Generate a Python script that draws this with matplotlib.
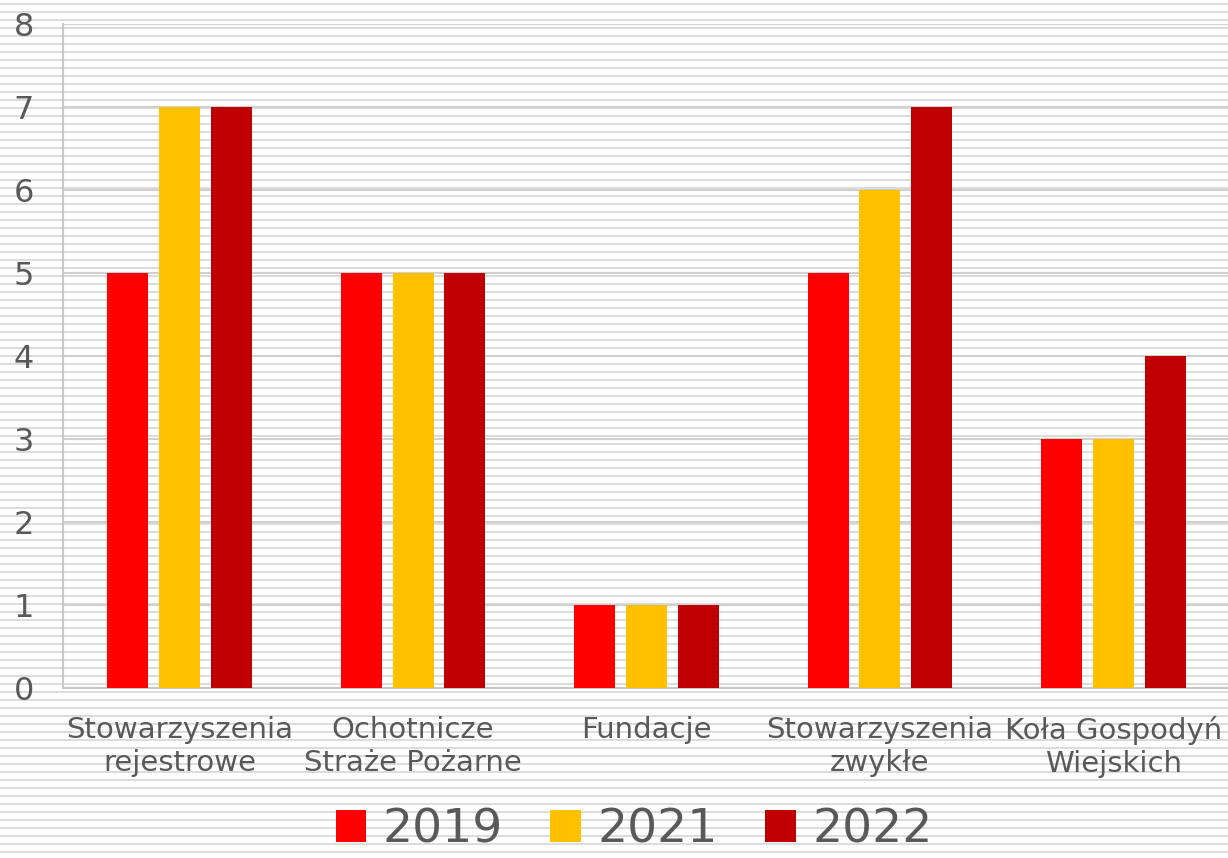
import matplotlib
matplotlib.use("Agg")
import matplotlib.pyplot as plt
import numpy as np

categories = ["Stowarzyszenia\nrejestrowe", "Ochotnicze\nStraże Pożarne", "Fundacje",
              "Stowarzyszenia\nzwykłe", "Koła Gospodyń\nWiejskich"]
series_names = ["2019", "2021", "2022"]
v2019 = [5, 5, 1, 5, 3]
v2021 = [7, 5, 1, 6, 3]
v2022 = [7, 5, 1, 7, 4]
colors = ["#FF0000", "#FFC000", "#C00000"]
yticks = [0, 1, 2, 3, 4, 5, 6, 7, 8]

W, H = 1228, 858
fig = plt.figure(figsize=(W / 100, H / 100), dpi=100)
fig.patch.set_facecolor("white")

# background striped pattern
bg = fig.add_axes([0, 0, 1, 1], zorder=0)
bg.set_xlim(0, W)
bg.set_ylim(H, 0)
bg.axis("off")
for yy in np.arange(3.7, H, 8.0):
    bg.axhline(yy, color="#dcdcdc", lw=1.4, zorder=0)

left, right, top, bottom = 63, 1230, 24, 688
ax = fig.add_axes([left / W, 1 - bottom / H, (right - left) / W, (bottom - top) / H], zorder=1)
ax.patch.set_alpha(0)

x = np.arange(len(categories))
bw = 0.176
step = 0.222
for i, (vals, c, nm) in enumerate(zip([v2019, v2021, v2022], colors, series_names)):
    ax.bar(x + (i - 1) * step, vals, width=bw, color=c, label=nm, zorder=3)

ax.set_xlim(-0.5, len(categories) - 0.5)
ax.set_ylim(0, 8)
ax.set_yticks(yticks)
ax.yaxis.grid(True, color="#d0d0d0", lw=1.5, zorder=1)
ax.set_axisbelow(True)
for s in ["top", "right"]:
    ax.spines[s].set_visible(False)
for s in ["left", "bottom"]:
    ax.spines[s].set_color("#c8c8c8")
    ax.spines[s].set_linewidth(1.5)
ax.set_xticks(x)
ax.set_xticklabels(categories, fontsize=21, color="#595959", linespacing=1.22)
ax.tick_params(axis="y", labelsize=23, labelcolor="#595959", length=0, pad=21)
ax.tick_params(axis="x", length=0, pad=20)

fig.legend(loc="center", bbox_to_anchor=(0.5165, 1 - 830 / H), ncol=3, frameon=False,
           fontsize=34, handlelength=0.64, handleheight=0.64, handletextpad=0.36,
           columnspacing=1.0, labelcolor="#595959", borderaxespad=0, borderpad=0)

fig.savefig("out.png", dpi=100, facecolor="white")
